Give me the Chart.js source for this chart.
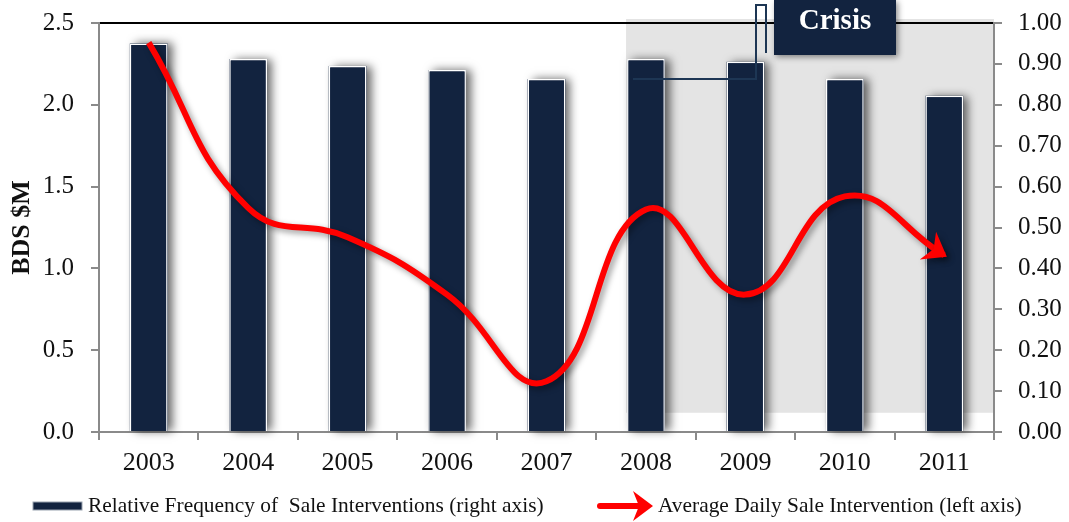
<!DOCTYPE html>
<html>
<head>
<meta charset="utf-8">
<title>Sale Interventions</title>
<script src="https://cdn.jsdelivr.net/npm/chart.js@4/dist/chart.umd.min.js"></script>
<style>
  html, body { margin: 0; padding: 0; background: #fff; }
</style>
</head>
<body>
<canvas id="interventionChart" width="1069" height="522"></canvas>
<script>
// yearly data
const years = ["2003", "2004", "2005", "2006", "2007", "2008", "2009", "2010", "2011"];
const relativeFrequency = [0.95, 0.912, 0.895, 0.885, 0.863, 0.912, 0.905, 0.863, 0.822]; // right axis
const avgDailySale = [2.38, 1.37, 1.19, 0.84, 0.31, 1.36, 0.84, 1.44, 1.08]; // left axis, BDS $M
const leftTicks = [0, 0.5, 1.0, 1.5, 2.0, 2.5];
const rightTicks = [0, 0.1, 0.2, 0.3, 0.4, 0.5, 0.6, 0.7, 0.8, 0.9, 1.0];
const crisisStart = "2008";

const NAVY = "#12233f";
const RED = "#ff0000";
const AXIS_GREY = "#8a8a8a";
const FONT = "'Liberation Serif', 'Times New Roman', serif";

// stealth style arrow head, tip at (tx, ty) pointing along (ux, uy)
function arrowHead(ctx, tx, ty, ux, uy, len, half) {
  const nx = -uy, ny = ux;
  const bx = tx - ux * len, by = ty - uy * len;
  const mx = tx - ux * len * 0.7, my = ty - uy * len * 0.7;
  ctx.beginPath();
  ctx.moveTo(tx, ty);
  ctx.lineTo(bx + nx * half, by + ny * half);
  ctx.lineTo(mx, my);
  ctx.lineTo(bx - nx * half, by - ny * half);
  ctx.closePath();
  ctx.fill();
}

// fixed axis sizes so the plot area sits where we want it
function fixWidth(w) {
  return (s) => { s.width = w; s.paddingTop = 0; s.paddingBottom = 0; };
}

const decorPlugin = {
  id: "decor",
  beforeDraw(chart) {
    const { ctx, chartArea, scales } = chart;
    const barMeta = chart.getDatasetMeta(1);
    const bw = barMeta.data[0].width;
    const left = scales.x.getPixelForValue(years.indexOf(crisisStart)) - bw / 2 - 1;
    const bottom = scales.y1.getPixelForValue(0.047);
    ctx.save();
    // crisis period shading
    ctx.fillStyle = "#e4e4e4";
    ctx.fillRect(left, chartArea.top - 4, chartArea.right - left, bottom - chartArea.top + 4);
    // top frame
    ctx.strokeStyle = "#000";
    ctx.lineWidth = 2;
    ctx.beginPath();
    ctx.moveTo(chartArea.left, chartArea.top);
    ctx.lineTo(chartArea.right, chartArea.top);
    ctx.stroke();
    ctx.restore();
  },
  beforeDatasetDraw(chart, args) {
    const ctx = chart.ctx;
    if (args.index === 1) {
      // soft drop shadow behind each bar
      ctx.save();
      ctx.shadowColor = "rgba(0,0,0,0.6)";
      ctx.shadowBlur = 9;
      ctx.shadowOffsetX = 5;
      ctx.shadowOffsetY = 0;
      ctx.fillStyle = NAVY;
      args.meta.data.forEach((b) => {
        ctx.fillRect(b.x - b.width / 2, b.y, b.width, b.base - b.y);
      });
      ctx.restore();
    } else {
      ctx.save();
      ctx.shadowColor = "rgba(0,0,0,0.4)";
      ctx.shadowBlur = 6;
      ctx.shadowOffsetX = 3;
      ctx.shadowOffsetY = 3;
    }
  },
  afterDatasetDraw(chart, args) {
    if (args.index !== 0) return;
    const ctx = chart.ctx;
    const pts = args.meta.data;
    const p = pts[pts.length - 1];
    let dx = p.x - p.cp1x, dy = p.y - p.cp1y;
    const d = Math.hypot(dx, dy) || 1;
    dx /= d; dy /= d;
    ctx.fillStyle = RED;
    arrowHead(ctx, p.x + dx * 3, p.y + dy * 3, dx, dy, 22, 16);
    ctx.restore();
  },
  afterDraw(chart) {
    const ctx = chart.ctx;
    ctx.save();

    // callout connector
    ctx.strokeStyle = "#1d3654";
    ctx.lineWidth = 2;
    ctx.beginPath();
    ctx.moveTo(766, 53);
    ctx.lineTo(766, 5);
    ctx.lineTo(756, 5);
    ctx.lineTo(756, 79);
    ctx.lineTo(633, 79);
    ctx.stroke();

    // crisis label box
    ctx.save();
    ctx.shadowColor = "rgba(0,0,0,0.45)";
    ctx.shadowBlur = 6;
    ctx.shadowOffsetX = 2;
    ctx.shadowOffsetY = 2;
    ctx.fillStyle = NAVY;
    ctx.fillRect(774, 0, 122, 55);
    ctx.restore();
    ctx.fillStyle = "#fff";
    ctx.font = "bold 29px " + FONT;
    ctx.textAlign = "center";
    ctx.textBaseline = "middle";
    ctx.fillText("Crisis", 835, 22);

    // legend
    const ly = 506;
    ctx.fillStyle = NAVY;
    ctx.strokeStyle = "#9aa3b0";
    ctx.lineWidth = 1;
    ctx.fillRect(33, ly - 4, 49, 8);
    ctx.strokeRect(33, ly - 4, 49, 8);
    ctx.fillStyle = "#111";
    ctx.font = "21.4px " + FONT;
    ctx.textAlign = "left";
    ctx.textBaseline = "middle";
    ctx.fillText(chart.data.datasets[1].label, 88, ly);

    ctx.strokeStyle = RED;
    ctx.lineWidth = 6;
    ctx.lineCap = "round";
    ctx.beginPath();
    ctx.moveTo(600, ly);
    ctx.lineTo(638, ly);
    ctx.stroke();
    ctx.fillStyle = RED;
    arrowHead(ctx, 653, ly, 1, 0, 20, 15);
    ctx.fillStyle = "#111";
    ctx.fillText(chart.data.datasets[0].label, 658, ly);

    ctx.restore();
  },
};

new Chart(document.getElementById("interventionChart"), {
  data: {
    labels: years,
    datasets: [
      {
        type: "line",
        label: "Average Daily Sale Intervention (left axis)",
        data: avgDailySale,
        yAxisID: "y",
        borderColor: RED,
        borderWidth: 6,
        tension: 0.45,
        pointRadius: 0,
        order: 0,
      },
      {
        type: "bar",
        label: "Relative Frequency of  Sale Interventions (right axis)",
        data: relativeFrequency,
        yAxisID: "y1",
        backgroundColor: NAVY,
        borderColor: "#ffffff",
        borderWidth: 1.5,
        barPercentage: 0.38,
        categoryPercentage: 1,
        order: 1,
      },
    ],
  },
  options: {
    responsive: false,
    animation: false,
    devicePixelRatio: 1,
    layout: { padding: { top: 23, bottom: 30, left: 0, right: 0 } },
    plugins: {
      legend: { display: false },
      tooltip: { enabled: false },
    },
    scales: {
      x: {
        afterFit: (s) => { s.height = 60; s.paddingLeft = 0; s.paddingRight = 0; },
        offset: true,
        grid: { offset: true, drawOnChartArea: false, tickLength: 8, color: AXIS_GREY, lineWidth: 2 },
        border: { color: AXIS_GREY, width: 2 },
        ticks: { color: "#111", font: { family: FONT, size: 26 }, padding: 8, maxRotation: 0 },
      },
      y: {
        position: "left",
        min: 0,
        max: 2.5,
        afterFit: fixWidth(99),
        afterBuildTicks: (s) => { s.ticks = leftTicks.map((v) => ({ value: v })); },
        grid: { drawOnChartArea: false, tickLength: 8, color: AXIS_GREY, lineWidth: 2 },
        border: { color: AXIS_GREY, width: 2 },
        ticks: {
          color: "#111",
          font: { family: FONT, size: 25 },
          padding: 17,
          callback: (v) => Number(v).toFixed(1),
        },
        title: {
          display: true,
          text: "BDS $M",
          color: "#111",
          font: { family: FONT, size: 26, weight: "bold" },
          padding: { top: 7, bottom: 0 },
        },
      },
      y1: {
        position: "right",
        min: 0,
        max: 1,
        afterFit: fixWidth(75),
        afterBuildTicks: (s) => { s.ticks = rightTicks.map((v) => ({ value: v })); },
        grid: { drawOnChartArea: false, tickLength: 8, color: AXIS_GREY, lineWidth: 2 },
        border: { color: AXIS_GREY, width: 2 },
        ticks: {
          color: "#111",
          font: { family: FONT, size: 25 },
          padding: 16,
          callback: (v) => Number(v).toFixed(2),
        },
      },
    },
  },
  plugins: [decorPlugin],
});
</script>
</body>
</html>
